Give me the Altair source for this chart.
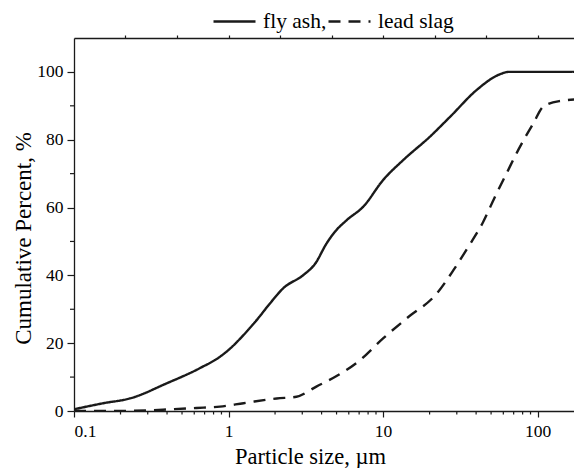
import altair as alt
import pandas as pd

# ---- data ----
fly_x = [0.1, 0.155, 0.23, 0.4, 0.65, 0.88, 1.0, 1.25, 1.52, 1.86, 2.26, 3.05, 3.63, 4.32,
         4.89, 5.82, 7.46, 10.0, 13.5, 20.1, 27.2, 40.4, 55.7, 65.0, 200.0]
fly_y = [0.5, 2.3, 3.7, 8.2, 12.6, 16.0, 18.0, 22.4, 26.8, 31.8, 36.2, 40.1, 43.4, 49.5,
         52.9, 56.3, 60.3, 68.1, 74.0, 80.9, 86.8, 94.7, 99.1, 100.0, 100.0]

slag_x = [0.1, 0.19, 0.31, 0.42, 0.62, 0.88, 1.25, 2.05, 2.75, 3.7, 5.0, 7.1, 10.0, 14.2,
          22.3, 28.6, 35.7, 44.5, 53.0, 63.0, 75.0, 94.0, 109.0, 138.0, 200.0]
slag_y = [0.0, 0.0, 0.2, 0.5, 0.9, 1.3, 2.3, 3.7, 4.2, 7.2, 10.3, 15.0, 21.4, 27.3,
          34.7, 41.6, 48.5, 55.8, 63.2, 70.1, 77.0, 84.9, 89.8, 91.4, 92.0]

series_names = ["fly ash", "lead slag"]

x_major = [0.1, 1, 10, 100]
x_minor = [0.2, 0.3, 0.4, 0.5, 0.6, 0.7, 0.8, 0.9,
           2, 3, 4, 5, 6, 7, 8, 9,
           20, 30, 40, 50, 60, 70, 80, 90]
y_major = [0, 20, 40, 60, 80, 100]
y_minor = [10, 30, 50, 70, 90]
top_ticks = [0.2154, 0.4642, 1, 2.154, 4.642, 10, 21.54, 46.42, 100]

FONT = "Liberation Serif"
INK = "#1a1a1a"
W, H = 500, 373

df = pd.concat([
    pd.DataFrame({"x": fly_x, "y": fly_y, "s": series_names[0], "o": range(len(fly_x))}),
    pd.DataFrame({"x": slag_x, "y": slag_y, "s": series_names[1], "o": range(len(slag_x))}),
])

xscale = alt.Scale(type="log", domain=[0.1, 172], nice=False)
yscale = alt.Scale(domain=[0, 110], nice=False, zero=False)

lines = alt.Chart(df).mark_line(color=INK, strokeWidth=2.4, interpolate="monotone", clip=True).encode(
    x=alt.X("x:Q", scale=xscale,
            axis=alt.Axis(title="Particle size, \u00b5m", values=x_major,
                          labelExpr="datum.value < 1 ? '0.1' : format(datum.value, 'd')",
                          tickSize=6, labelPadding=5, grid=False,
                          labelFont=FONT, labelFontSize=17.5, labelColor="black",
                          titleFont=FONT, titleFontSize=22.5, titleColor="black",
                          titleFontWeight="normal",
                          titleX=236, titleY=52, titleBaseline="alphabetic",
                          titleAlign="center")),
    y=alt.Y("y:Q", scale=yscale,
            axis=alt.Axis(title="Cumulative Percent, %", values=y_major, tickSize=7,
                          labelPadding=4, grid=False,
                          labelFont=FONT, labelFontSize=17.5, labelColor="black",
                          titleFont=FONT, titleFontSize=23, titleColor="black",
                          titleFontWeight="normal",
                          titleX=-44, titleY=200, titleBaseline="alphabetic",
                          titleAlign="center", titleAngle=-90)),
    strokeDash=alt.StrokeDash("s:N",
                              scale=alt.Scale(domain=series_names, range=[[1, 0], [12, 8]]),
                              legend=alt.Legend(title=None, orient="none", direction="horizontal",
                                                legendX=138, legendY=-39,
                                                symbolType="stroke", symbolSize=1764,
                                                symbolStrokeWidth=2.4, symbolStrokeColor=INK,
                                                labelFont=FONT, labelFontSize=21.5,
                                                labelColor="black", labelOffset=6,
                                                columnPadding=-4, padding=0,
                                                labelExpr="datum.label == 'fly ash' ? 'fly ash,' : datum.label")),
    order="o:Q",
)

xminor = alt.Chart(pd.DataFrame({"x": x_minor})).mark_rule(color=INK, strokeWidth=1.2).encode(
    x=alt.X("x:Q", scale=xscale, axis=None), y=alt.value(H), y2=alt.value(H + 3.5))

yminor = alt.Chart(pd.DataFrame({"y": y_minor})).mark_rule(color=INK, strokeWidth=1.2).encode(
    y=alt.Y("y:Q", scale=yscale, axis=None), x=alt.value(-4), x2=alt.value(0))

top = alt.Chart(pd.DataFrame({"x": top_ticks})).mark_rule(opacity=0).encode(
    x=alt.X("x:Q", scale=xscale,
            axis=alt.Axis(orient="top", values=top_ticks, labels=False, tickSize=3,
                          title=None, grid=False)),
    y=alt.value(0), y2=alt.value(1))

chart = alt.layer(lines, xminor, yminor, top).resolve_axis(
    x="independent", y="independent"
).properties(
    width=W, height=H,
    autosize=alt.AutoSizeParams(type="none"),
    padding={"left": 66, "top": 30, "right": 0, "bottom": 57},
).configure_view(stroke=None).configure_axis(
    domainColor=INK, domainWidth=1.3, tickColor=INK, tickWidth=1.2,
).configure_legend(labelFont=FONT)

chart.save("out.html", embed_options={"renderer": "svg", "actions": False})
